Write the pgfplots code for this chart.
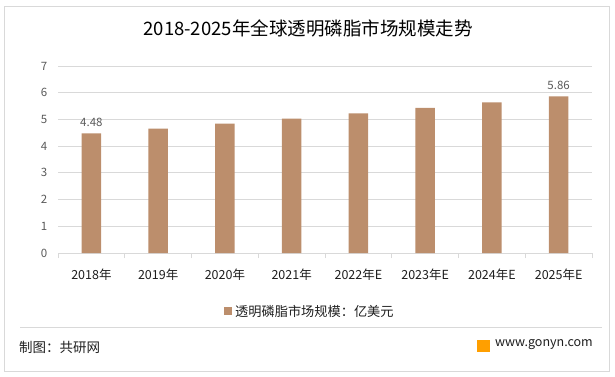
\documentclass[border=0pt]{standalone}
\usepackage{pgfplots}
\pgfplotsset{compat=1.18}
\usepackage{fontspec}
\setmainfont{Noto Sans CJK SC}
\definecolor{barc}{RGB}{188,142,108}
\definecolor{gridc}{RGB}{217,217,217}
\definecolor{txt}{RGB}{89,89,89}
\definecolor{dark}{RGB}{30,30,30}
\begin{document}
\begin{tikzpicture}[x=1pt,y=1pt]
\path[use as bounding box] (0,0) rectangle (615,376);
\draw[gridc,line width=0.8pt] (4.5,5) rectangle (609,370);
\node[font=\fontsize{18.5}{20}\selectfont, text=black] at (308,348) {2018-2025年全球透明磷脂市场规模走势};
\begin{axis}[
  at={(58pt,123pt)}, anchor=south west,
  scale only axis, width=534pt, height=187pt,
  xmin=-0.5, xmax=7.5, ymin=0, ymax=7,
  ytick={0,1,...,7},
  xtick={0,...,7},
  xticklabels={2018年,2019年,2020年,2021年,2022年E,2023年E,2024年E,2025年E},
  minor xtick={-0.5,0.5,...,7.5},
  major x tick style={draw=none},
  minor x tick style={draw=gridc, line width=0.8pt},
  minor tick length=5pt,
  tick align=outside,
  axis lines=left,
  y axis line style={draw=none},
  x axis line style={draw=gridc, line width=0.8pt, -},
  ymajorgrids, grid style={draw=gridc, line width=0.8pt},
  major y tick style={draw=none},
  /pgf/number format/assume math mode=true,
  yticklabel style={font=\fontsize{11.5}{13}\selectfont, text=txt, xshift=-5pt},
  xticklabel style={font=\fontsize{12.5}{14}\selectfont, text=dark, yshift=-8pt},
  ybar, bar width=19.5pt,
  point meta=explicit symbolic,
  nodes near coords,
  nodes near coords style={font=\fontsize{11.5}{13}\selectfont, text=txt, yshift=3pt},
  clip=false,
]
\addplot[fill=barc, draw=none] coordinates {
  (0,4.48) [4.48]
  (1,4.66) []
  (2,4.84) []
  (3,5.03) []
  (4,5.23) []
  (5,5.43) []
  (6,5.64) []
  (7,5.86) [5.86]
};
\end{axis}
\fill[barc] (224,61) rectangle (232,69);
\node[anchor=west, font=\fontsize{13.2}{15}\selectfont, text=dark, inner sep=0pt] at (235,65) {透明磷脂市场规模：亿美元};
\draw[gridc, line width=0.8pt] (20,49) -- (602,49);
\node[anchor=west, font=\fontsize{13.5}{15}\selectfont, text=dark, inner sep=0pt] at (19,29) {制图：共研网};
\fill[orange!75!yellow] (477,24) rectangle (490,36);
\node[anchor=east, font=\fontsize{12.5}{14}\selectfont, text=dark, inner sep=0pt] at (593,31) {www.gonyn.com};
\end{tikzpicture}
\end{document}
